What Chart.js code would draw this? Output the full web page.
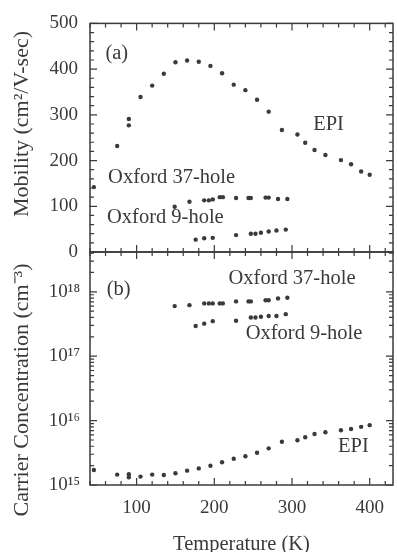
<!DOCTYPE html>
<html>
<head>
<meta charset="utf-8">
<script src="https://cdn.jsdelivr.net/npm/chart.js@4.4.1/dist/chart.umd.min.js"></script>
<style>
  html, body { margin: 0; padding: 0; background: #fff; }
  #wrap { position: relative; width: 397px; height: 552px; }
  canvas { position: absolute; left: 0; top: 0; }
</style>
</head>
<body>
<div id="wrap">
  <canvas id="mob" width="397" height="552"></canvas>
  <canvas id="conc" width="397" height="552"></canvas>
</div>
<script>
// EPI sample, temperature in K
const epiT = [45, 75, 90, 90, 105, 120, 135, 150, 165, 180, 195, 210, 225, 240, 255, 270, 287, 307, 317, 329, 343, 363, 376, 389, 400];
const epiMobility = [142, 232, 291, 277, 339, 364, 390, 415, 419, 416, 407, 391, 366, 354, 333, 307, 267, 257, 239, 223, 212, 201, 192, 176, 169];
const epiConc = [1.71e15, 1.45e15, 1.47e15, 1.32e15, 1.35e15, 1.45e15, 1.43e15, 1.52e15, 1.67e15, 1.81e15, 1.99e15, 2.25e15, 2.56e15, 2.79e15, 3.17e15, 3.71e15, 4.7e15, 4.95e15, 5.5e15, 6.2e15, 6.6e15, 7.1e15, 7.4e15, 8.0e15, 8.5e15];

// Oxford 37-hole
const ox37T = [149, 168, 187, 193, 198, 207, 211, 228, 244, 247, 266, 270, 282, 294];
const ox37Mobility = [99, 110, 113, 113, 115, 120, 120, 118, 118, 118, 119, 119, 116, 116];
const ox37Conc = [6.0e17, 6.2e17, 6.6e17, 6.6e17, 6.6e17, 6.6e17, 6.6e17, 7.1e17, 7.1e17, 7.1e17, 7.4e17, 7.4e17, 7.9e17, 8.1e17];

// Oxford 9-hole
const ox9T = [176, 187, 198, 228, 247, 253, 260, 270, 280, 292];
const ox9Mobility = [27, 30, 31, 37, 40, 40, 42, 45, 47, 49];
const ox9Conc = [2.95e17, 3.2e17, 3.5e17, 3.55e17, 4.0e17, 4.0e17, 4.1e17, 4.2e17, 4.2e17, 4.5e17];

const tempTicks = [100, 200, 300, 400];
const mobilityTicks = [0, 100, 200, 300, 400, 500];
const concTicks = [1e15, 1e16, 1e17, 1e18];

// text placed in data units of each panel
const notesTop = [['(a)', 74.5, 433], ['Oxford 37-hole', 145, 163], ['Oxford 9-hole', 137, 75], ['EPI', 347, 278]];
const notesBottom = [['(b)', 77, 1.09e18], ['Oxford 37-hole', 300, 1.61e18], ['Oxford 9-hole', 315.5, 2.25e17], ['EPI', 379, 3.96e15]];

const ink = '#3a3a3a';
const serif = '"Liberation Serif", "Times New Roman", serif';
const sup = n => String(n).split('').map(d => '⁰¹²³⁴⁵⁶⁷⁸⁹'[+d]).join('');

function pts(xs, ys) {
    return xs.map((x, i) => ({ x: x, y: ys[i] }))
}

function ds(data) {
    return { data: data, backgroundColor: ink, borderWidth: 0, pointRadius: 2.2, showLine: false }
}

function range(from, to, step) {
    const out = []
    for (let v = from; v <= to + 1e-9; v += step) out.push(v)
    return out
}

// frame with inward ticks on all four sides, the rotated y title and the notes
function panel(opts) {
    return {
        id: 'panel',
        afterDatasetsDraw(chart) {
            const { ctx, chartArea: a, scales: { x, y } } = chart
            ctx.save()
            ctx.strokeStyle = ink
            ctx.lineWidth = 1.2
            ctx.beginPath()
            range(40, 430, 20).forEach(v => {
                const px = x.getPixelForValue(v)
                const len = v % 100 === 0 ? 7 : 4
                ctx.moveTo(px, a.bottom); ctx.lineTo(px, a.bottom - len)
                ctx.moveTo(px, a.top); ctx.lineTo(px, a.top + len)
            })
            opts.yMarks.forEach(([v, major]) => {
                const py = y.getPixelForValue(v)
                const len = major ? 7 : 4
                ctx.moveTo(a.left, py); ctx.lineTo(a.left + len, py)
                ctx.moveTo(a.right, py); ctx.lineTo(a.right - len, py)
            })
            ctx.stroke()
            ctx.lineWidth = 1.5
            ctx.strokeRect(a.left, a.top, a.right - a.left, a.bottom - a.top)

            ctx.fillStyle = ink
            ctx.textAlign = 'center'
            ctx.textBaseline = 'middle'
            ctx.font = '20.5px ' + serif
            opts.notes.forEach(([t, vx, vy]) => {
                ctx.fillText(t, x.getPixelForValue(vx), y.getPixelForValue(vy))
            })

            ctx.font = '22px ' + serif
            ctx.translate(opts.titleAt[0], opts.titleAt[1])
            ctx.rotate(-Math.PI / 2)
            ctx.fillText(opts.title, 0, 0)
            ctx.restore()
        }
    }
}

const tickFont = { family: serif, size: 19 }

const mobMarks = range(0, 500, 20).map(v => [v, v % 100 === 0])
const concMarks = []
for (let e = 15; e <= 18; e++) {
    for (let m = 1; m <= 9; m++) {
        if (m * Math.pow(10, e) <= 4.15e18) concMarks.push([m * Math.pow(10, e), m === 1])
    }
}

new Chart(document.getElementById('mob'), {
    type: 'scatter',
    data: { datasets: [ds(pts(epiT, epiMobility)), ds(pts(ox37T, ox37Mobility)), ds(pts(ox9T, ox9Mobility))] },
    options: {
        responsive: false,
        animation: false,
        events: [],
        layout: { padding: { left: 0, right: 2, top: 19, bottom: 300 } },
        plugins: { legend: { display: false }, tooltip: { enabled: false } },
        scales: {
            x: { type: 'linear', min: 40, max: 430, display: false },
            y: {
                type: 'linear', min: 0, max: 500,
                afterFit: s => { s.width = 90 },
                afterBuildTicks: s => { s.ticks = mobilityTicks.map(v => ({ value: v })) },
                grid: { display: false, drawTicks: false },
                border: { display: false },
                ticks: { padding: 12, color: ink, font: tickFont }
            }
        }
    },
    plugins: [panel({ yMarks: mobMarks, notes: notesTop, title: 'Mobility (cm²/V-sec)', titleAt: [22, 124] })]
})

new Chart(document.getElementById('conc'), {
    type: 'scatter',
    data: { datasets: [ds(pts(epiT, epiConc)), ds(pts(ox37T, ox37Conc)), ds(pts(ox9T, ox9Conc))] },
    options: {
        responsive: false,
        animation: false,
        events: [],
        layout: { padding: { left: 0, right: 2, top: 252, bottom: 0 } },
        plugins: { legend: { display: false }, tooltip: { enabled: false } },
        scales: {
            x: {
                type: 'linear', min: 40, max: 430,
                afterFit: s => { s.height = 67 },
                afterBuildTicks: s => { s.ticks = tempTicks.map(v => ({ value: v })) },
                grid: { display: false, drawTicks: false },
                border: { display: false },
                ticks: { padding: 12, color: ink, font: tickFont, autoSkip: false, maxRotation: 0 },
                title: { display: true, text: 'Temperature (K)', color: ink, padding: 0, font: { family: serif, size: 20.5, lineHeight: 0.75 } }
            },
            y: {
                type: 'logarithmic', min: 1e15, max: 4.15e18,
                afterFit: s => { s.width = 90 },
                afterBuildTicks: s => { s.ticks = concTicks.map(v => ({ value: v })) },
                grid: { display: false, drawTicks: false },
                border: { display: false },
                ticks: {
                    padding: 10, color: ink, font: tickFont, autoSkip: false,
                    callback: v => '10' + sup(Math.round(Math.log10(v)))
                }
            }
        }
    },
    plugins: [panel({ yMarks: concMarks, notes: notesBottom, title: 'Carrier Concentration (cm⁻³)', titleAt: [22, 390] })]
})
</script>
</body>
</html>
